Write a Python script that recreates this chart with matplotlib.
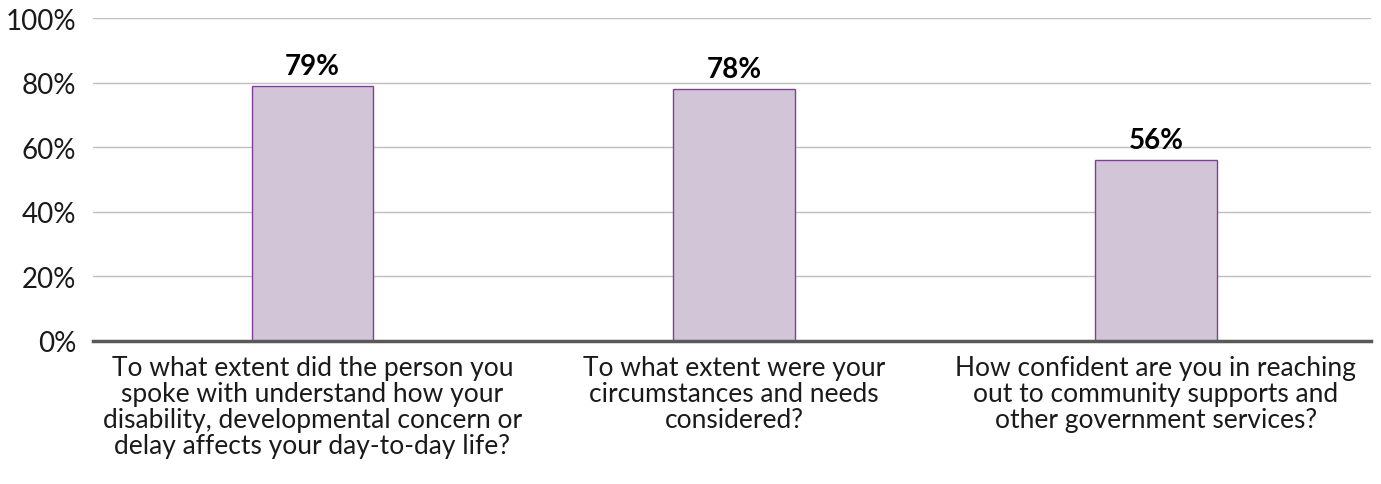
import matplotlib
matplotlib.use("Agg")
import matplotlib.pyplot as plt
from matplotlib.ticker import PercentFormatter

categories = [
    "To what extent did the person you\nspoke with understand how your\ndisability, developmental concern or\ndelay affects your day-to-day life?",
    "To what extent were your\ncircumstances and needs\nconsidered?",
    "How confident are you in reaching\nout to community supports and\nother government services?",
]
values = [79, 78, 56]
yticks = [0, 20, 40, 60, 80, 100]

plt.rcParams['font.family'] = ['Lato', 'DejaVu Sans']

fig = plt.figure(figsize=(13.81, 4.85), dpi=100)
ax = fig.add_axes([93/1381, 1 - 342/485, (1371-93)/1381, (342-19)/485])

x = list(range(len(categories)))
bars = ax.bar(x, values, width=0.288, color="#D3C5D8", edgecolor="#7F3F98", linewidth=1.0, zorder=3)
for xi, v in zip(x, values):
    ax.annotate(f"{v}%", (xi, v), xytext=(0, 5), textcoords="offset points",
                ha="center", va="bottom", fontsize=20, fontweight="bold", color="black")

ax.set_xlim(-0.52, 2.51)
ax.set_ylim(0, 100)
ax.set_yticks(yticks)
ax.yaxis.set_major_formatter(PercentFormatter(decimals=0))
ax.set_xticks(x)
ax.set_xticklabels(categories, fontsize=19, linespacing=1.05, color="#1a1a1a")
ax.tick_params(axis="y", length=0, pad=12, labelsize=20, labelcolor="#1a1a1a")
ax.tick_params(axis="x", length=0, pad=10)
ax.grid(axis="y", color="#BFBFBF", linewidth=1.0, zorder=0)
for s in ["top", "right", "left"]:
    ax.spines[s].set_visible(False)
ax.spines["bottom"].set_color("#595959")
ax.spines["bottom"].set_linewidth(2.5)
ax.spines["bottom"].set_zorder(4)

fig.savefig("out.png", dpi=100)
